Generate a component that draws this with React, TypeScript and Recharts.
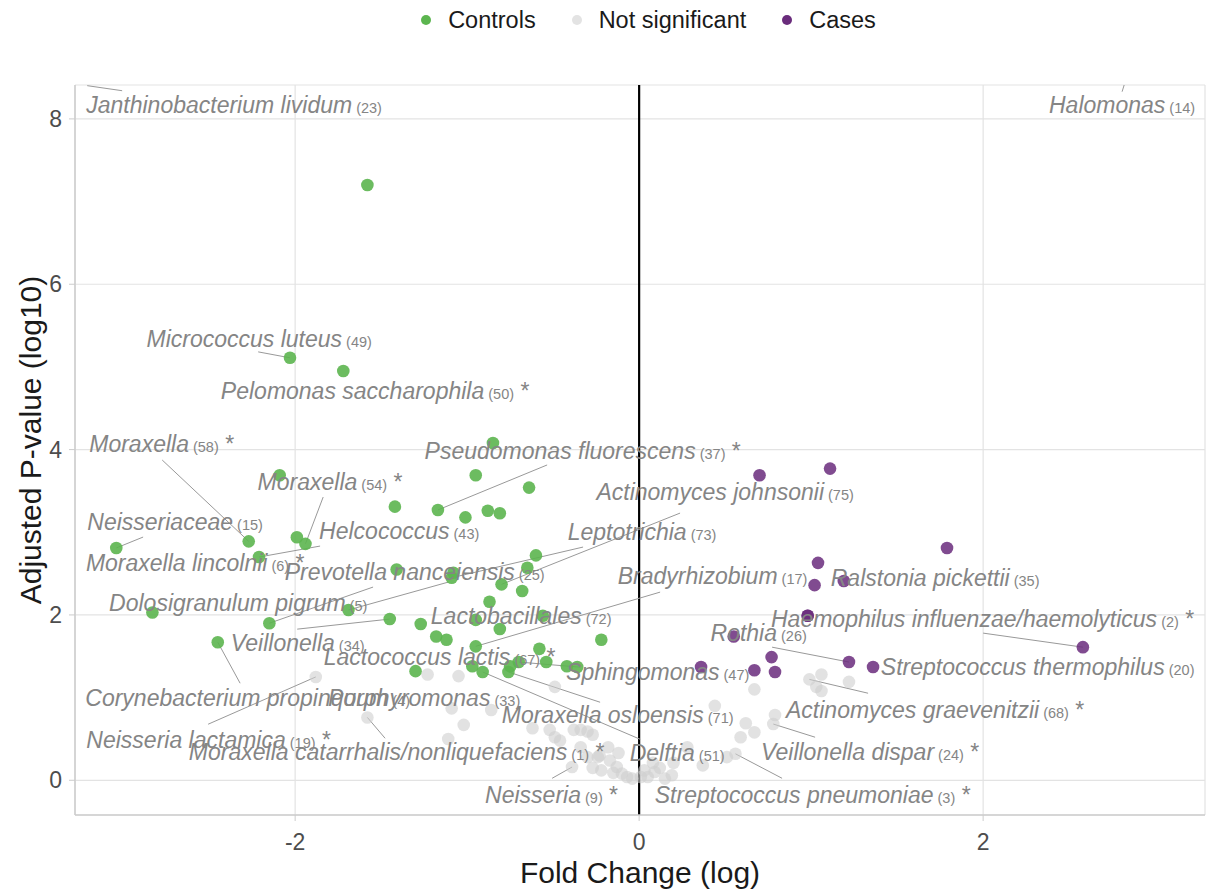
import {
  ScatterChart,
  Scatter,
  XAxis,
  YAxis,
  CartesianGrid,
  ReferenceLine,
  Legend,
} from "recharts";

const GREEN = "#5cb54f";
const GREY = "#cfcfcf";
const PURPLE = "#6a2c7c";
const LABEL_GREY = "#858585";
const FONT = "'Liberation Sans', Arial, sans-serif";

// fold change (log), adjusted p-value (log10)
const controlsFc = [-1.58, -2.03, -1.72, -0.85, -2.09, -0.95, -0.64, -1.42, -1.17, -0.88, -0.81, -1.01, -2.27, -1.99, -1.94, -3.04, -2.21, -0.6, -1.41, -1.08, -1.09, -0.65, -0.8, -0.68, -0.87, -2.83, -1.69, -0.56, -1.45, -2.15, -1.27, -0.95, -0.81, -1.18, -1.12, -2.45, -0.22, -0.95, -0.58, -0.54, -0.7, -0.75, -0.42, -0.36, -1.3, -0.97, -0.91, -0.76];
const controlsP = [7.2, 5.11, 4.95, 4.08, 3.69, 3.69, 3.54, 3.31, 3.27, 3.26, 3.23, 3.18, 2.89, 2.94, 2.86, 2.81, 2.7, 2.72, 2.55, 2.51, 2.45, 2.57, 2.37, 2.29, 2.16, 2.03, 2.06, 1.99, 1.95, 1.9, 1.89, 1.94, 1.83, 1.74, 1.7, 1.67, 1.7, 1.62, 1.59, 1.43, 1.43, 1.38, 1.38, 1.37, 1.32, 1.38, 1.31, 1.31];

const casesFc = [0.7, 1.11, 1.79, 1.04, 1.02, 1.19, 0.98, 0.98, 0.55, 2.58, 0.77, 1.22, 1.36, 0.36, 0.67, 0.79];
const casesP = [3.69, 3.77, 2.81, 2.63, 2.36, 2.41, 1.99, 1.99, 1.74, 1.61, 1.49, 1.43, 1.37, 1.37, 1.33, 1.31];

const notSigFc = [-1.88, -1.23, -1.05, -0.49, -1.58, -1.09, -0.86, -1.02, -0.62, -0.52, -0.49, -0.46, -0.38, -0.34, -0.3, -0.27, -1.11, -0.34, -0.3, -0.23, -0.17, -0.27, -0.22, -0.13, -0.15, -0.07, -0.04, 0.01, -0.39, -0.12, -0.18, -0.24, -0.1, 1.06, 0.99, 1.03, 1.06, 1.22, 0.67, 0.44, 0.79, 0.78, 0.62, 0.67, 0.59, 0.56, 0.51, 0.28, 0.2, 0.08, 0.09, 0.19, 0.05, 0.12, 0.37, 0.03, 0.15];
const notSigP = [1.25, 1.28, 1.26, 1.13, 0.76, 0.87, 0.85, 0.67, 0.63, 0.61, 0.52, 0.48, 0.61, 0.61, 0.59, 0.55, 0.5, 0.4, 0.28, 0.3, 0.24, 0.15, 0.12, 0.16, 0.09, 0.04, 0.02, 0.04, 0.16, 0.33, 0.4, 0.28, 0.08, 1.28, 1.22, 1.13, 1.08, 1.19, 1.1, 0.9, 0.79, 0.68, 0.69, 0.58, 0.52, 0.32, 0.28, 0.4, 0.21, 0.21, 0.1, 0.06, 0.04, 0.15, 0.18, 0.12, 0.02];

// taxon labels: name, count, significant star
const labelNames = ["Janthinobacterium lividum", "Halomonas", "Micrococcus luteus", "Pelomonas saccharophila", "Moraxella", "Moraxella", "Neisseriaceae", "Helcococcus", "Moraxella lincolnii", "Prevotella nanceiensis", "Dolosigranulum pigrum", "Veillonella", "Corynebacterium propinquum", "Porphyromonas", "Neisseria lactamica", "Moraxella catarrhalis/nonliquefaciens", "Lactobacillales", "Lactococcus lactis", "Sphingomonas", "Moraxella osloensis", "Delftia", "Neisseria", "Streptococcus pneumoniae", "Veillonella dispar", "Actinomyces graevenitzii", "Streptococcus thermophilus", "Rothia", "Haemophilus influenzae/haemolyticus", "Ralstonia pickettii", "Bradyrhizobium", "Actinomyces johnsonii", "Leptotrichia", "Pseudomonas fluorescens"];
const labelCounts = [23, 14, 49, 50, 58, 54, 15, 43, 6, 25, 5, 34, 4, 33, 19, 1, 72, 67, 47, 71, 51, 9, 3, 24, 68, 20, 26, 2, 35, 17, 75, 73, 37];
const labelStars = [false, false, false, true, true, true, false, false, true, false, false, false, false, false, true, true, false, true, false, false, false, true, true, true, true, false, false, true, false, false, false, false, true];
// label anchor in data units
const labelFc = [-2.355, 2.808, -2.209, -1.535, -2.776, -1.797, -2.698, -1.395, -2.581, -1.305, -2.331, -1.985, -2.276, -1.25, -2.503, -1.41, -0.686, -1.16, 0.108, -0.125, 0.221, -0.509, 1.009, 1.343, 1.721, 2.317, 0.695, 1.997, 1.721, 0.427, 0.5, 0.017, -0.328];
const labelP = [8.172, 8.172, 5.339, 4.709, 4.068, 3.608, 3.123, 3.015, 2.627, 2.518, 2.143, 1.659, 0.993, 0.993, 0.484, 0.339, 1.985, 1.489, 1.308, 0.787, 0.327, -0.182, -0.182, 0.339, 0.847, 1.368, 1.78, 1.949, 2.446, 2.47, 3.487, 3.002, 3.983];

// repel segments: [from fc, from p, to fc, to p]
const segments: [number, number, number, number][] = [
  [-3.006, 8.341, -3.209, 8.402],
  [2.808, 8.329, 2.82, 8.41],
  [-2.215, 5.182, -2.03, 5.11],
  [-2.773, 3.874, -2.27, 2.89],
  [-1.837, 3.426, -1.94, 2.86],
  [-2.884, 2.942, -3.04, 2.81],
  [-1.855, 2.833, -2.21, 2.7],
  [-1.11, 2.397, -1.69, 2.06],
  [-1.547, 2.337, -2.15, 1.9],
  [-1.988, 1.828, -1.45, 1.95],
  [-2.32, 1.174, -2.45, 1.67],
  [-2.506, 0.678, -1.88, 1.25],
  [-1.477, 0.508, -1.58, 0.76],
  [-0.343, 1.368, -0.7, 1.43],
  [-0.227, 0.944, -0.76, 1.31],
  [0.006, 0.496, -0.91, 1.31],
  [-0.506, 0.024, -0.39, 0.16],
  [0.831, 0.024, 0.56, 0.32],
  [1.023, 0.521, 0.78, 0.68],
  [1.331, 1.053, 0.99, 1.22],
  [0.773, 1.61, 1.22, 1.43],
  [2.0, 1.78, 2.58, 1.61],
  [0.122, 2.276, -0.95, 1.62],
  [0.238, 3.232, -0.8, 2.37],
  [-0.326, 2.821, -1.09, 2.45],
  [-0.535, 3.814, -1.17, 3.27],
];

const xTicks = [-2, 0, 2];
const yTicks = [0, 2, 4, 6, 8];

const controls = controlsFc.map((fc, i) => ({ fc, p: controlsP[i] }));
const cases = casesFc.map((fc, i) => ({ fc, p: casesP[i] }));
const notSig = notSigFc.map((fc, i) => ({ fc, p: notSigP[i] }));
const labels = labelNames.map((name, i) => ({
  name,
  n: labelCounts[i],
  star: labelStars[i],
  fc: labelFc[i],
  p: labelP[i],
}));

const legendItems = [
  { name: "Controls", color: GREEN },
  { name: "Not significant", color: "#e3e3e3" },
  { name: "Cases", color: PURPLE },
];

const dot = (color: string, opacity: number) => (props: any) => (
  <circle cx={props.cx} cy={props.cy} r={6.3} fill={color} fillOpacity={opacity} />
);

const LabelText = (props: any) => {
  const { cx, cy, payload } = props;
  return (
    <text x={cx} y={cy + 8} textAnchor="middle" fill={LABEL_GREY} fontFamily={FONT}>
      <tspan fontStyle="italic" fontSize={23}>{payload.name}</tspan>
      <tspan fontSize={14.5}>{" (" + payload.n + ")"}</tspan>
      {payload.star ? <tspan fontSize={23}>{" *"}</tspan> : null}
    </text>
  );
};

const LegendContent = () => (
  <div
    style={{
      height: 40,
      display: "flex",
      justifyContent: "center",
      alignItems: "center",
      paddingLeft: 84,
      fontFamily: FONT,
      fontSize: 23.5,
      color: "#1a1a1a",
    }}
  >
    {legendItems.map((it) => (
      <div key={it.name} style={{ display: "flex", alignItems: "center", margin: "0 18px" }}>
        <span
          style={{
            width: 10,
            height: 10,
            borderRadius: 5,
            background: it.color,
            marginRight: 17,
            display: "inline-block",
          }}
        />
        {it.name}
      </div>
    ))}
  </div>
);

export default function App() {
  return (
    <div style={{ position: "absolute", left: 0, top: 0, background: "#fff" }}>
      <ScatterChart
        width={1213}
        height={891}
        margin={{ top: 45, right: 8, bottom: 0, left: 0 }}
        style={{ fontFamily: FONT }}
      >
        <CartesianGrid stroke="#e3e3e3" strokeWidth={1.2} />
        <XAxis
          type="number"
          dataKey="fc"
          domain={[-3.28, 3.29]}
          ticks={xTicks}
          allowDataOverflow
          height={76}
          tick={{ fill: "#4d4d4d", fontSize: 23, fontFamily: FONT }}
          tickMargin={13}
          tickSize={6}
          axisLine={{ stroke: "#cccccc", strokeWidth: 1.5 }}
          tickLine={{ stroke: "#cccccc" }}
          label={{
            value: "Fold Change (log)",
            position: "center",
            dy: 19,
            fill: "#1a1a1a",
            fontSize: 30,
            fontFamily: FONT,
          }}
        />
        <YAxis
          type="number"
          dataKey="p"
          domain={[-0.42, 8.41]}
          ticks={yTicks}
          allowDataOverflow
          width={75}
          tick={{ fill: "#4d4d4d", fontSize: 23, fontFamily: FONT }}
          tickMargin={7}
          tickSize={6}
          axisLine={{ stroke: "#cccccc", strokeWidth: 1.5 }}
          tickLine={{ stroke: "#cccccc" }}
          label={{
            value: "Adjusted P-value (log10)",
            angle: -90,
            position: "center",
            dx: -7,
            dy: -10,
            fill: "#1a1a1a",
            fontSize: 30,
            fontFamily: FONT,
          }}
        />
        <Legend verticalAlign="top" align="left" wrapperStyle={{ top: 0, left: 0, width: 1213 }} content={LegendContent} />
        <Scatter name="Not significant" data={notSig} shape={dot(GREY, 0.6)} isAnimationActive={false} />
        <Scatter name="Controls" data={controls} shape={dot(GREEN, 0.9)} isAnimationActive={false} />
        <Scatter name="Cases" data={cases} shape={dot(PURPLE, 0.85)} isAnimationActive={false} />
        <ReferenceLine x={0} stroke="#000" strokeWidth={2.2} />
        {segments.map((s, i) => (
          <ReferenceLine
            key={"seg" + i}
            segment={[
              { x: s[0], y: s[1] },
              { x: s[2], y: s[3] },
            ]}
            stroke="#999999"
            strokeWidth={1}
            ifOverflow="visible"
          />
        ))}
        <Scatter name="labels" data={labels} shape={LabelText} legendType="none" isAnimationActive={false} />
      </ScatterChart>
    </div>
  );
}
